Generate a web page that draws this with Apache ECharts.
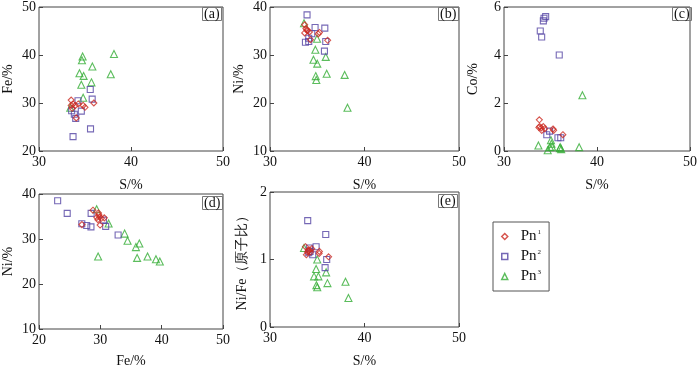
<!DOCTYPE html>
<html>
<head>
<meta charset="utf-8">
<script src="https://cdn.jsdelivr.net/npm/echarts@6/dist/echarts.min.js"></script>
<style>
  html, body { margin: 0; padding: 0; background: #fff; }
  #main { width: 700px; height: 369px; }
</style>
</head>
<body>
<div id="main"></div>
<script>
// (a) S vs Fe
const aPn1 = [[33.5,30.6],[33.5,29.5],[33.7,29.8],[33.95,29.5],[34.27,29.8],[34.8,29.5],[35.0,29.1],[35.96,30.0],[34.05,26.9],[33.6,28.9]];
const aPn2 = [[35.57,32.8],[35.78,30.8],[34.24,30.46],[34.6,28.3],[33.84,27.65],[33.99,26.8],[35.6,24.6],[33.7,23.0],[33.55,28.4]];
const aPn3 = [[34.74,39.7],[34.67,38.9],[38.15,40.2],[35.8,37.6],[34.4,36.2],[34.85,35.65],[37.8,36.0],[34.6,33.8],[35.7,34.3],[34.8,31.1],[33.4,29.0]];
// (b) S vs Ni
const bPn1 = [[33.67,36.3],[33.8,35.5],[33.96,35.05],[34.17,34.8],[33.67,34.6],[34.28,33.2],[35.1,34.4],[35.23,34.7],[36.1,33.06],[33.9,35.2]];
const bPn2 = [[33.92,38.35],[34.77,35.74],[35.8,35.6],[34.42,34.43],[34.1,33.5],[33.75,32.65],[34.1,32.8],[35.9,32.8],[35.76,30.8]];
const bPn3 = [[33.6,36.6],[34.98,33.4],[34.8,31.1],[34.6,29.0],[35.0,28.2],[35.9,29.6],[36.0,26.1],[37.9,25.85],[34.84,25.6],[34.9,24.8],[38.2,19.0]];
// (c) S vs Co
const cPn1 = [[33.8,1.3],[33.84,1.02],[34.0,0.96],[34.06,0.86],[34.38,0.93],[34.23,1.02],[35.27,0.92],[35.34,0.86],[36.33,0.68],[33.75,0.98]];
const cPn2 = [[34.48,5.6],[34.3,5.53],[34.23,5.42],[33.9,5.0],[34.05,4.75],[35.94,4.0],[34.6,0.68],[34.9,0.83],[35.8,0.55],[36.1,0.55]];
const cPn3 = [[38.43,2.32],[33.7,0.23],[35.05,0.45],[34.95,0.16],[34.7,0.03],[35.16,0.18],[36.0,0.12],[36.15,0.08],[38.08,0.16],[35.1,0.3],[36.05,0.16]];
// (d) Fe vs Ni
const dPn1 = [[28.8,36.4],[29.75,35.4],[29.86,34.9],[29.43,34.8],[30.17,34.6],[30.65,34.7],[29.96,33.1],[27.0,33.2],[29.6,34.3],[29.7,35.8]];
const dPn2 = [[23.04,38.5],[24.6,35.7],[26.98,33.4],[27.78,33.0],[28.47,32.7],[28.5,35.7],[30.87,32.8],[32.9,30.9],[30.5,34.2]];
const dPn3 = [[29.4,36.6],[31.35,33.45],[33.96,31.2],[34.44,29.6],[36.36,29.0],[35.8,28.2],[36.0,25.8],[37.7,26.1],[39.07,25.5],[39.7,25.0],[29.64,26.1]];
// (e) S vs Ni/Fe
const ePn1 = [[33.75,1.19],[33.85,1.07],[34.06,1.13],[34.28,1.11],[34.42,1.16],[35.23,1.12],[35.2,1.09],[36.2,1.04],[33.96,1.11],[34.2,1.14]];
const ePn2 = [[33.99,1.576],[35.9,1.37],[34.88,1.19],[34.17,1.17],[36.0,1.0],[35.83,0.88],[34.52,1.07],[34.24,1.12],[34.1,1.1]];
const ePn3 = [[33.6,1.17],[35.0,1.0],[34.88,0.86],[34.66,0.75],[35.12,0.75],[35.94,0.81],[36.08,0.65],[37.99,0.67],[34.91,0.62],[35.0,0.59],[38.3,0.43]];

const panelLabels = ['(a)', '(b)', '(c)', '(d)', '(e)'];
const xNames = ['S/%', 'S/%', 'S/%', 'Fe/%', 'S/%'];
const yNames = ['Fe/%', 'Ni/%', 'Co/%', 'Ni/%', 'Ni/Fe（原子比）'];
const xRanges = [[30, 50, 10], [30, 50, 10], [30, 50, 10], [20, 50, 10], [30, 50, 10]];
const yRanges = [[20, 50, 10], [10, 40, 10], [0, 6, 2], [10, 40, 10], [0, 2, 1]];
const groups = [
  [aPn1, aPn2, aPn3],
  [bPn1, bPn2, bPn3],
  [cPn1, cPn2, cPn3],
  [dPn1, dPn2, dPn3],
  [ePn1, ePn2, ePn3]
];
const seriesNames = ['Pn1', 'Pn2', 'Pn3'];
const colors = ['#cc2a22', '#5242a2', '#33ad35'];
const symbols = ['diamond', 'rect', 'triangle'];
const symbolSizes = [6, 6, 7];

const font = 'Liberation Serif, Times New Roman, serif';

const grids = [
  { left: 37, top: 5, width: 186, height: 146 },
  { left: 270, top: 5, width: 189, height: 146 },
  { left: 504, top: 5, width: 189, height: 146 },
  { left: 35, top: 194, width: 188, height: 145 },
  { left: 270, top: 192, width: 189, height: 147 }
];

const xAxis = [], yAxis = [], series = [], titles = [];
grids.forEach(function (g, i) {
  g.show = true;
  g.borderColor = '#444';
  g.borderWidth = 1;
  g.backgroundColor = '#fff';
  xAxis.push({
    type: 'value', gridIndex: i,
    min: xRanges[i][0], max: xRanges[i][1], interval: xRanges[i][2],
    name: xNames[i], nameLocation: 'middle', nameGap: i === 3 ? 25 : 27,
    nameTextStyle: { fontFamily: font, fontSize: 14, color: '#111' },
    axisLine: { show: false },
    axisTick: { inside: true, length: 4, lineStyle: { color: '#444' } },
    axisLabel: { fontFamily: font, fontSize: 14, color: '#111', margin: 4 },
    splitLine: { show: false }
  });
  yAxis.push({
    type: 'value', gridIndex: i,
    min: yRanges[i][0], max: yRanges[i][1], interval: yRanges[i][2],
    name: yNames[i], nameLocation: 'middle', nameGap: i === 4 ? 21 : 24,
    nameTextStyle: { fontFamily: font, fontSize: 14, color: '#111' },
    axisLine: { show: false },
    axisTick: { inside: true, length: 4, lineStyle: { color: '#444' } },
    axisLabel: { fontFamily: font, fontSize: 14, color: '#111', margin: 3 },
    splitLine: { show: false }
  });
  titles.push({
    text: panelLabels[i],
    left: g.left + g.width - 21, top: g.top + 2,
    padding: [0, 2, 0, 2],
    borderColor: '#777', borderWidth: 1,
    textStyle: { fontFamily: font, fontSize: 14, fontWeight: 'normal', color: '#111' }
  });
  groups[i].forEach(function (data, k) {
    series.push({
      type: 'scatter', name: seriesNames[k],
      xAxisIndex: i, yAxisIndex: i,
      data: data,
      symbol: symbols[k], symbolSize: symbolSizes[k],
      itemStyle: { color: 'rgba(255,255,255,0)', borderColor: colors[k], borderWidth: 1.1 },
      z: 3 - k
    });
  });
});

const chart = echarts.init(document.getElementById('main'));
chart.setOption({
  animation: false,
  backgroundColor: '#fff',
  title: titles,
  grid: grids,
  xAxis: xAxis,
  yAxis: yAxis,
  legend: {
    data: seriesNames,
    orient: 'vertical',
    left: 493, top: 222,
    padding: [7, 8, 7, 8],
    itemGap: 5,
    itemWidth: 6, itemHeight: 6,
    itemStyle: { borderWidth: 1.5 },
    borderColor: '#555', borderWidth: 1,
    formatter: function (name) {
      return 'Pn{sup|' + name.slice(2) + '}';
    },
    textStyle: {
      fontFamily: font, fontSize: 15, color: '#111', padding: [0, 0, 0, 8],
      rich: { sup: { fontFamily: font, fontSize: 7, verticalAlign: 'top', padding: [0, 0, 8, 1] } }
    }
  },
  series: series
});
</script>
</body>
</html>
